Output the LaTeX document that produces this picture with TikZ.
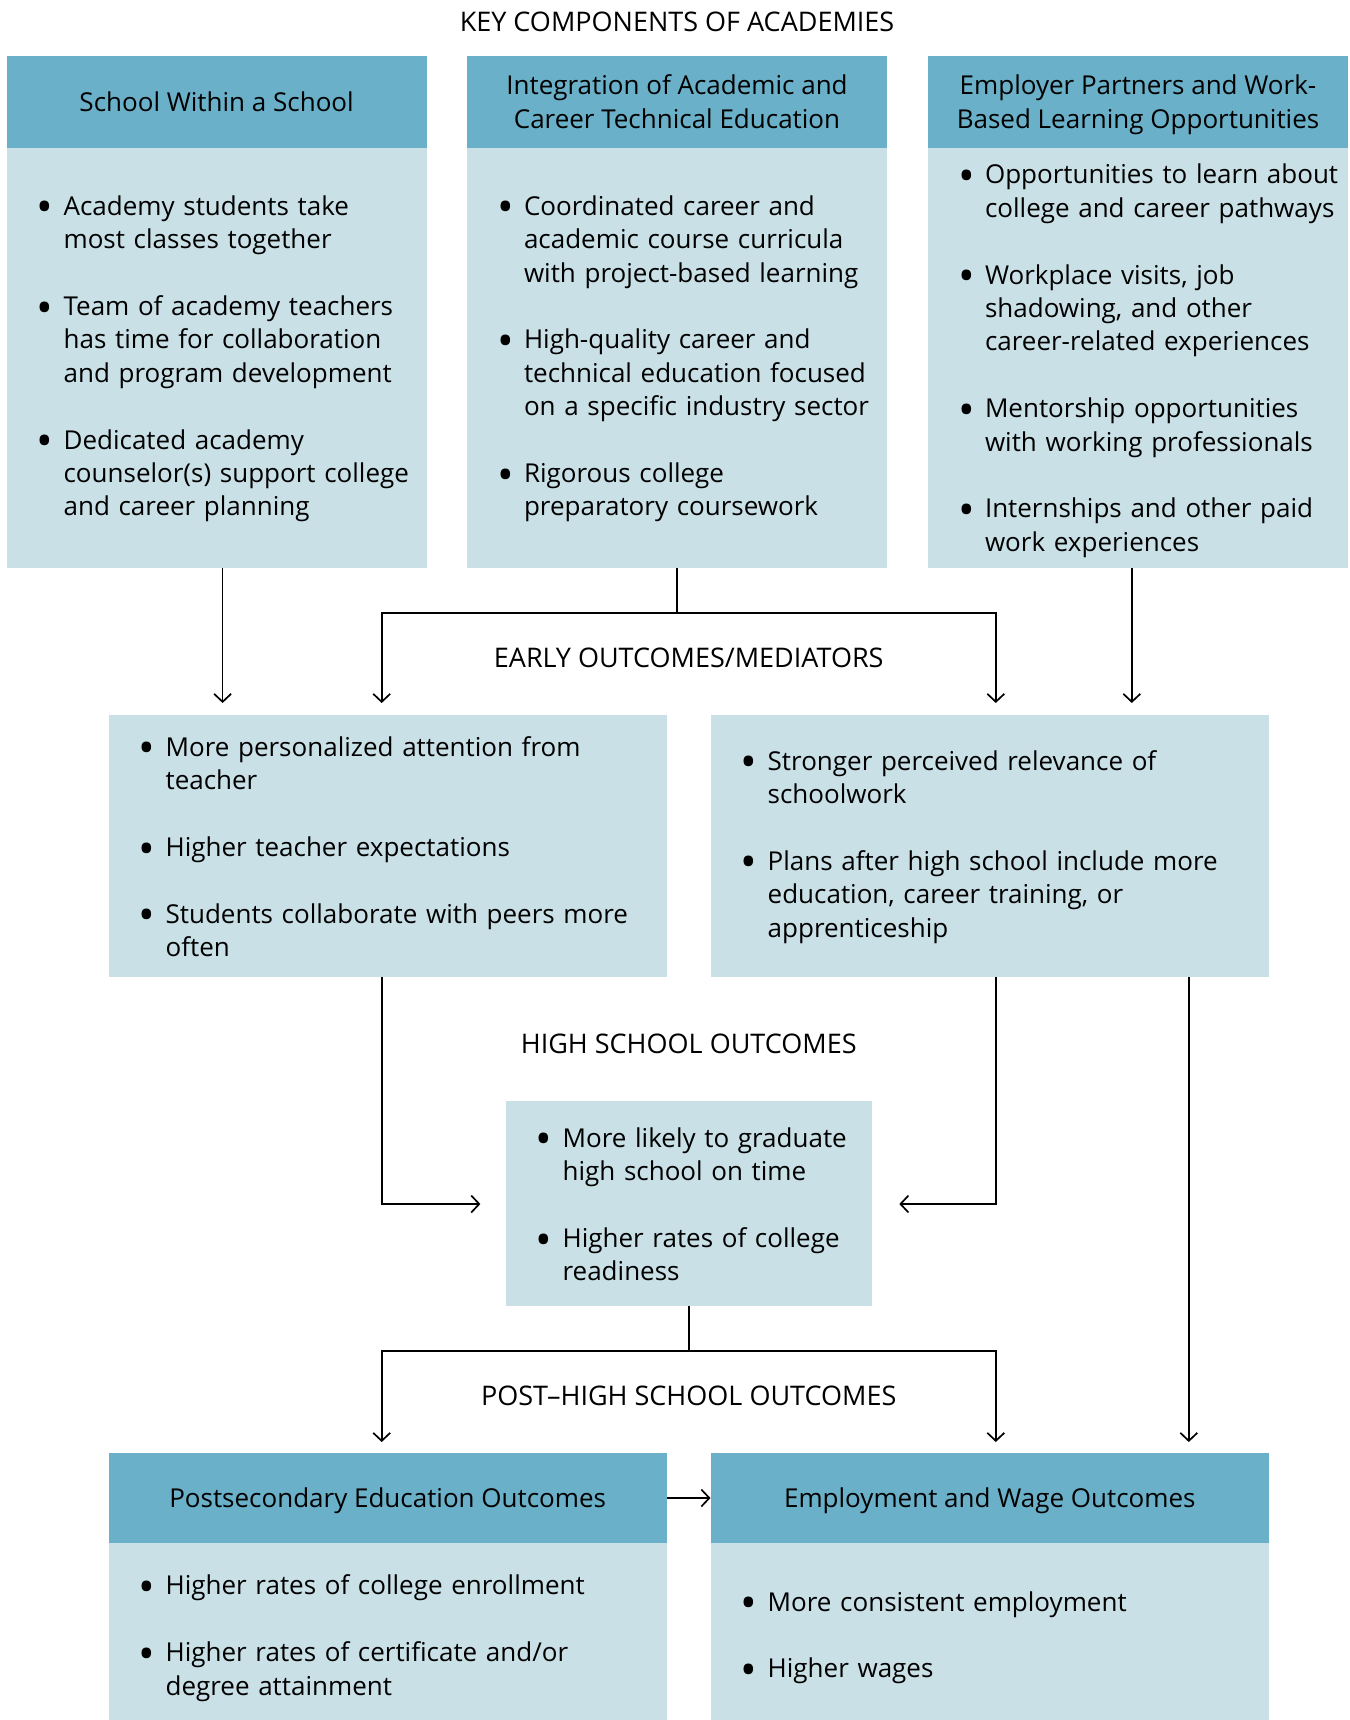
\documentclass[tikz,border=0pt]{standalone}
\usepackage{fontspec}
\setmainfont{Open Sans}
\usetikzlibrary{arrows.meta}
\definecolor{hdrc}{HTML}{69B0C8}
\definecolor{bodyc}{HTML}{C9E0E6}
\newcommand\bitem[1]{\par\hangindent=26pt\hangafter=1\noindent\makebox[26pt][l]{\hspace{-1pt}\raisebox{-0.29em}{\scalebox{1.7}{\textbullet}}}#1\par}
\newcommand\gap{\vskip 33.4pt}
\newcommand\hs{\rule[-0.24em]{0pt}{1.2em}}
\tikzset{
  hdr/.style={fill=hdrc, draw=none, inner sep=0pt, align=center, font=\fontsize{26}{33.4}\selectfont},
  bodybox/.style={fill=bodyc, draw=none, inner sep=0pt},
  txt/.style={inner sep=0pt, anchor=west, text width=#1, font=\fontsize{26}{33.4}\selectfont, align=left},
  lbl/.style={inner sep=0pt, font=\fontsize{27}{33.4}\selectfont},
  arr/.style={line width=1.7pt, -{Straight Barb[length=8pt,width=17pt,line width=1.7pt]}},
  ln/.style={line width=1.7pt}
}
\begin{document}
\begin{tikzpicture}[x=1pt,y=-1pt]
\useasboundingbox (0,0) rectangle (1349,1720);
% title
\node[lbl] (title) at (677,22) {KEY COMPONENTS OF ACADEMIES};
% top boxes
\node[hdr, minimum width=420pt, minimum height=92pt] (h1) at (216.6,102) {\hs School Within a School};
\node[bodybox, minimum width=420pt, minimum height=420pt] (b1) at (216.6,358) {};
\node[hdr, minimum width=420pt, minimum height=92pt] (h2) at (677,102) {\hs Integration of Academic and\\\hs Career Technical Education};
\node[bodybox, minimum width=420pt, minimum height=420pt] (b2) at (677,358) {};
\node[hdr, minimum width=420pt, minimum height=92pt] (h3) at (1138,102) {\hs Employer Partners and Work-\\\hs Based Learning Opportunities};
\node[bodybox, minimum width=420pt, minimum height=420pt] (b3) at (1138,358) {};
\node[txt=380pt] (t1) at ([xshift=31pt,yshift=6pt]b1.west) {%
\bitem{Academy students take\newline most classes together}\gap
\bitem{Team of academy teachers\newline has time for collaboration\newline and program development}\gap
\bitem{Dedicated academy\newline counselor(s) support college\newline and career planning}};
\node[txt=380pt] (t2) at ([xshift=31pt,yshift=6pt]b2.west) {%
\bitem{Coordinated career and\newline academic course curricula\newline with project-based learning}\gap
\bitem{High-quality career and\newline technical education focused\newline on a specific industry sector}\gap
\bitem{Rigorous college\newline preparatory coursework}};
\node[txt=380pt] (t3) at ([xshift=31pt,yshift=4pt]b3.west) {%
\bitem{Opportunities to learn about\newline college and career pathways}\gap
\bitem{Workplace visits, job\newline shadowing, and other\newline career-related experiences}\gap
\bitem{Mentorship opportunities\newline with working professionals}\gap
\bitem{Internships and other paid\newline work experiences}};
% middle boxes
\node[lbl] (early) at (688.7,658) {EARLY OUTCOMES/MEDIATORS};
\node[bodybox, minimum width=558.2pt, minimum height=262pt] (ml) at (387.7,846) {};
\node[bodybox, minimum width=558.2pt, minimum height=262pt] (mr) at (989.8,846) {};
\node[txt=500pt] (tml) at ([xshift=31pt,yshift=6pt]ml.west) {%
\bitem{More personalized attention from\newline teacher}\gap
\bitem{Higher teacher expectations}\gap
\bitem{Students collaborate with peers more\newline often}};
\node[txt=500pt] (tmr) at ([xshift=31pt,yshift=6pt]mr.west) {%
\bitem{Stronger perceived relevance of\newline schoolwork}\gap
\bitem{Plans after high school include more\newline education, career training, or\newline apprenticeship}};
% high school
\node[lbl] (hsl) at (688.7,1044) {HIGH SCHOOL OUTCOMES};
\node[bodybox, minimum width=366.3pt, minimum height=205pt] (hs) at (688.75,1203.5) {};
\node[txt=330pt] (ths) at ([xshift=31pt,yshift=6pt]hs.west) {%
\bitem{More likely to graduate\newline high school on time}\gap
\bitem{Higher rates of college\newline readiness}};
% post high school
\node[lbl] (phsl) at (688.7,1396) {POST–HIGH SCHOOL OUTCOMES};
\node[hdr, minimum width=558.2pt, minimum height=90pt] (lh) at (387.7,1498) {\hs Postsecondary Education Outcomes};
\node[bodybox, minimum width=558.2pt, minimum height=177pt] (lb) at (387.7,1631.5) {};
\node[hdr, minimum width=558.2pt, minimum height=90pt] (rh) at (989.8,1498) {\hs Employment and Wage Outcomes};
\node[bodybox, minimum width=558.2pt, minimum height=177pt] (rb) at (989.8,1631.5) {};
\node[txt=500pt] (tlb) at ([xshift=31pt]lb.west) {%
\bitem{Higher rates of college enrollment}\gap
\bitem{Higher rates of certificate and/or\newline degree attainment}};
\node[txt=500pt] (trb) at ([xshift=31pt]rb.west) {%
\bitem{More consistent employment}\gap
\bitem{Higher wages}};
% coordinates
\coordinate (j1) at (676.7,613);
\coordinate (j2) at (688.7,1351);
\coordinate (e1) at (222.6,703);
\coordinate (e2) at (381.7,703);
\coordinate (e3) at (995.8,703);
\coordinate (e4) at (1131.8,703);
\coordinate (k1) at (381.7,1204);
\coordinate (k2) at (995.8,1204);
\coordinate (hsL) at (480.4,1204);
\coordinate (hsR) at (899.3,1204);
\coordinate (f1) at (381.7,1442);
\coordinate (f2) at (995.8,1442);
\coordinate (f3) at (1188.8,1442);
% connectors
\draw[arr] (b1.south -| e1) -- (e1);
\draw[ln] (b2.south -| j1) -- (j1);
\draw[arr] (j1) -| (e2);
\draw[arr] (j1) -| (e3);
\draw[arr] (b3.south -| e4) -- (e4);
\draw[arr] (ml.south -| k1) -- (k1) -- (hsL);
\draw[arr] (mr.south -| k2) -- (k2) -- (hsR);
\draw[arr] (mr.south -| f3) -- (f3);
\draw[ln] (hs.south -| j2) -- (j2);
\draw[arr] (j2) -| (f1);
\draw[arr] (j2) -| (f2);
\draw[arr] (lh.east) -- (rh.west);
\end{tikzpicture}
\end{document}
